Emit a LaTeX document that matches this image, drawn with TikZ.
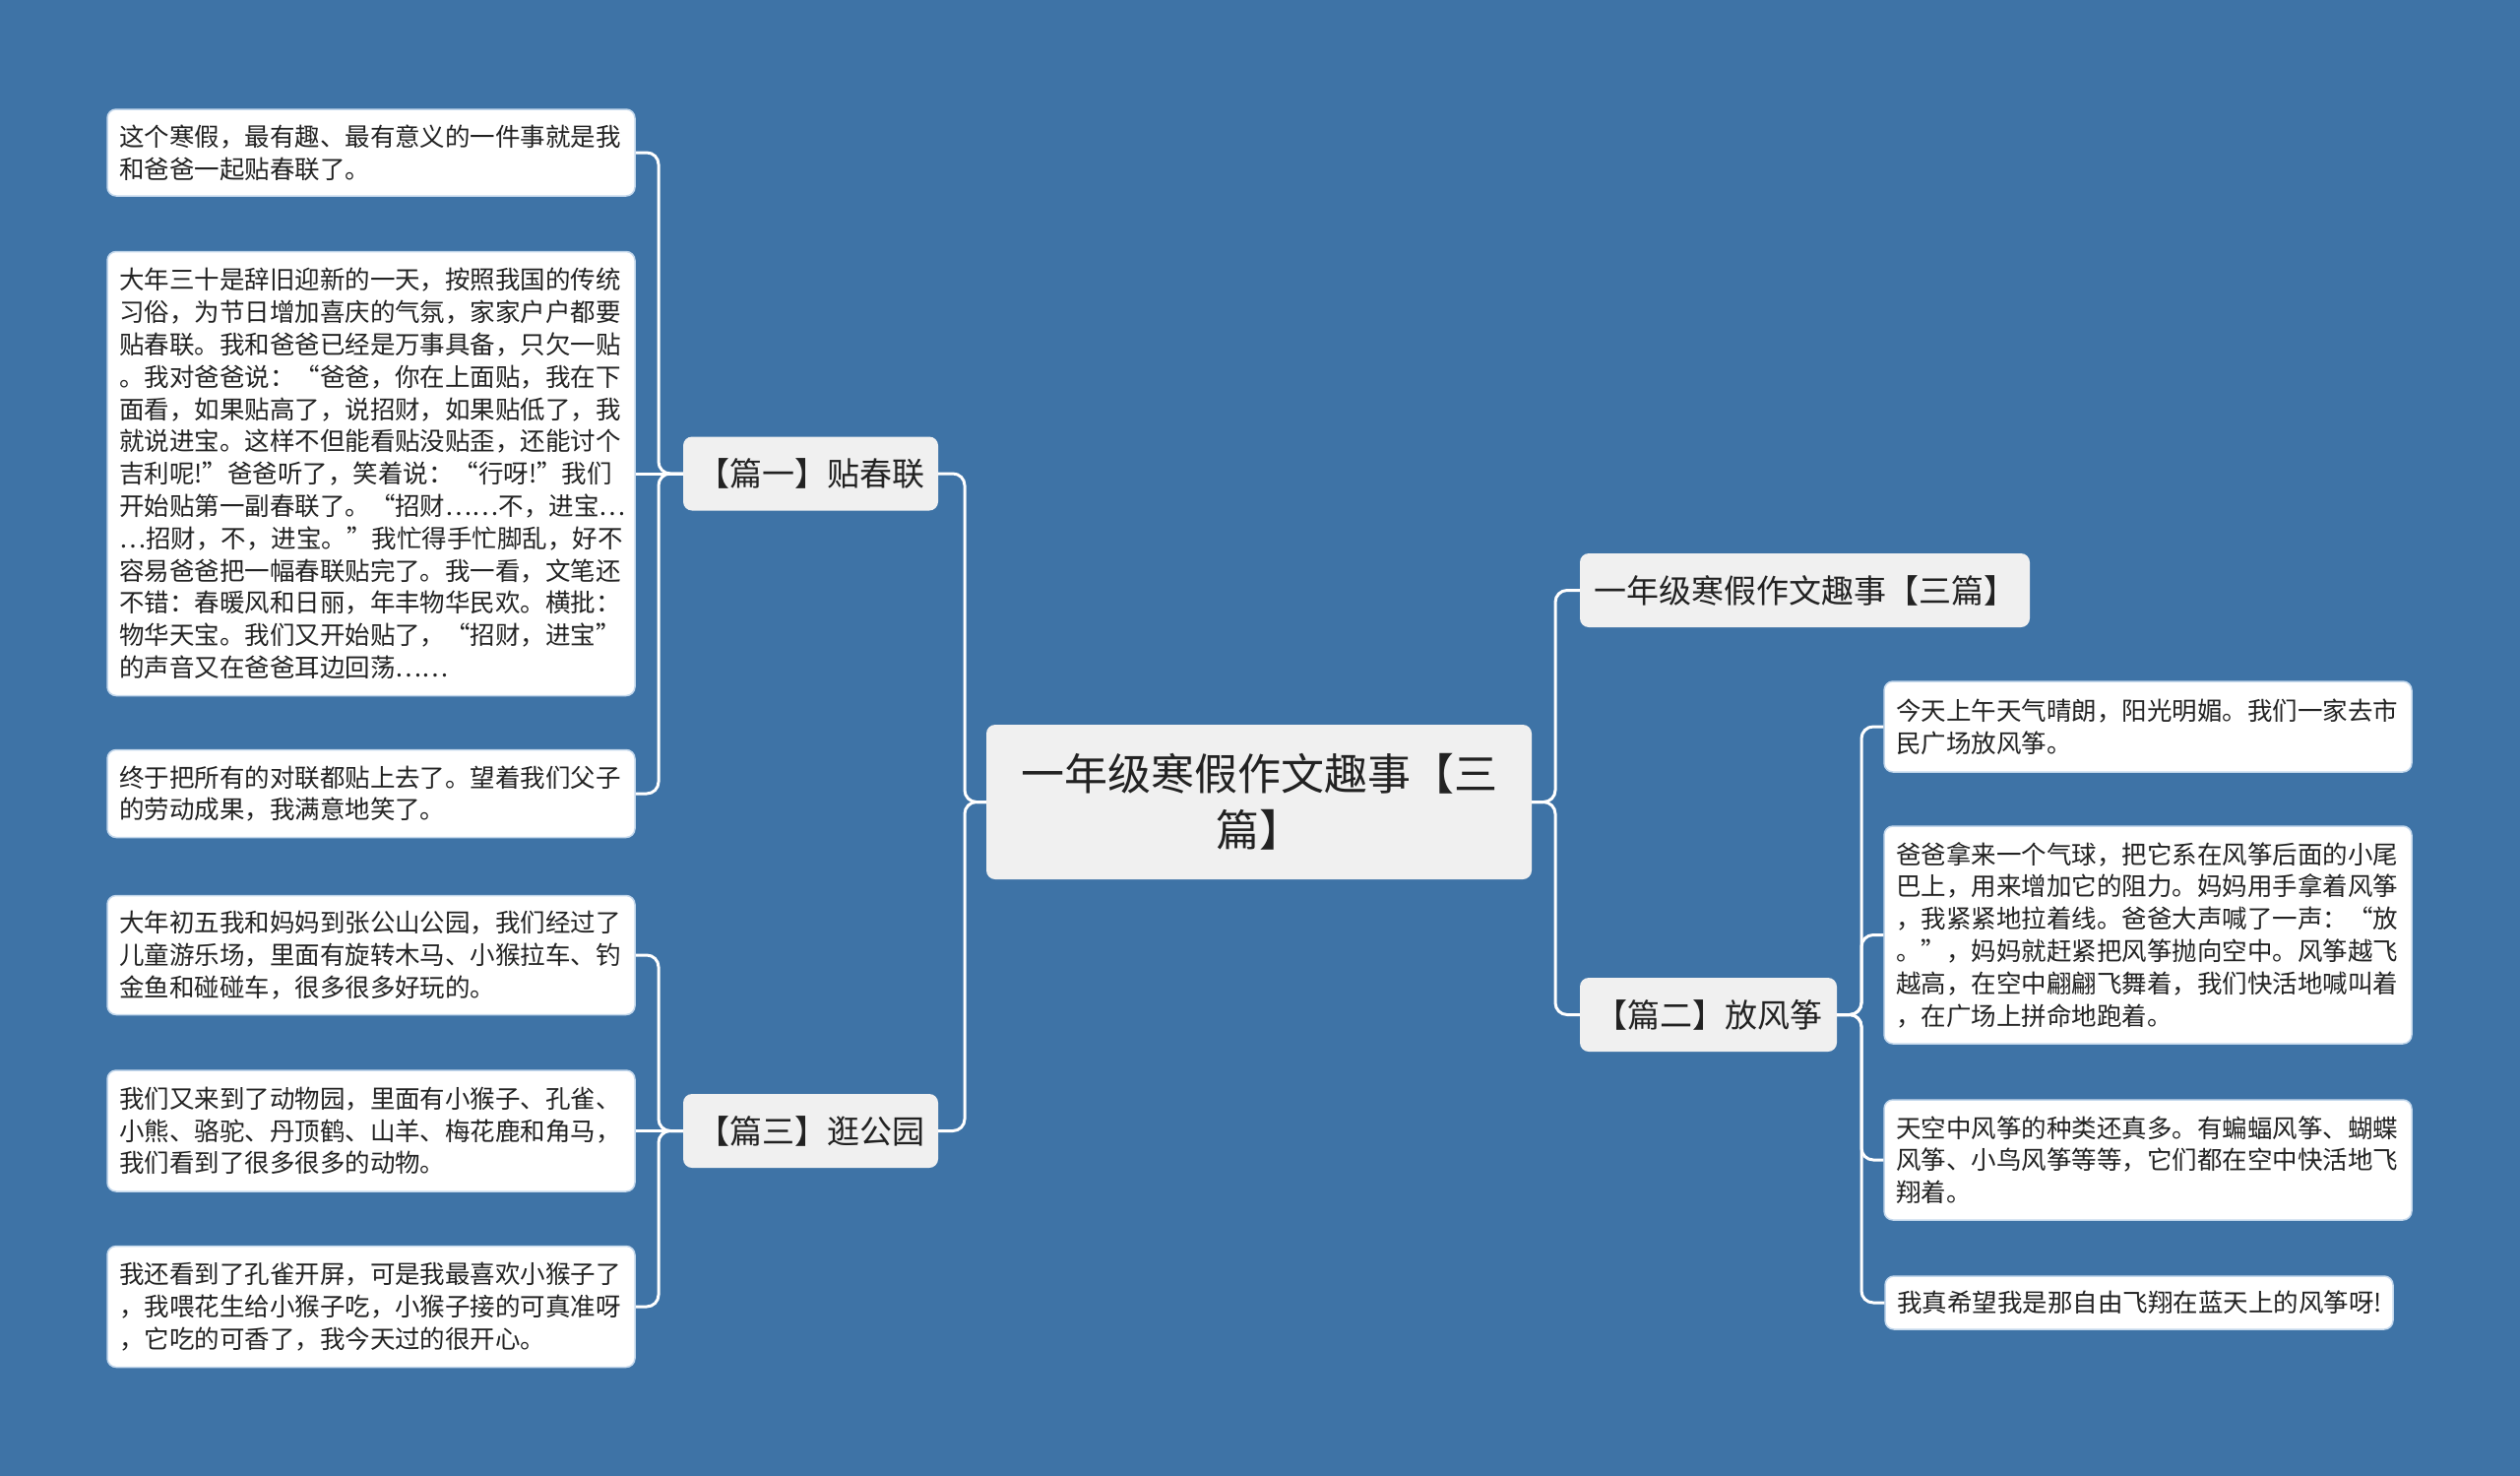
\documentclass[tikz,border=0pt]{standalone}
\usepackage{fontspec}
\setmainfont{Noto Sans CJK SC}
\definecolor{bgblue}{RGB}{62,115,166}
\definecolor{leafline}{RGB}{196,216,236}
\definecolor{boxgray}{RGB}{240,240,240}
\definecolor{txt}{RGB}{34,34,34}
\begin{document}
\begin{tikzpicture}[x=1pt,y=-1pt,
  leaf/.style={draw=leafline, line width=1.5pt, fill=white, rounded corners=9pt,
    inner xsep=12pt, inner ysep=0pt, text width=512pt, align=left, text=txt,
    font=\fontsize{25.5}{32.8}\selectfont},
  branchbox/.style={fill=boxgray, rounded corners=9pt, inner xsep=14pt, inner ysep=0pt,
    minimum height=75pt, text=txt, font=\fontsize{33}{40}\selectfont},
  rootbox/.style={fill=boxgray, rounded corners=9pt, inner sep=0pt,
    minimum width=554pt, minimum height=157pt, text width=500pt, align=center, text=txt,
    font=\fontsize{44}{57}\selectfont},
  conn/.style={draw=white, line width=3pt, rounded corners=12pt}
]
\fill[bgblue] (0,0) rectangle (2560,1499);
\useasboundingbox (0,0) rectangle (2560,1499);

% root
\node[rootbox] (root) at (1279,814.5) {一年级寒假作文趣事【三\\篇】};

% branches
\node[branchbox, minimum width=259pt] (b1) at (823.5,481) {【篇一】贴春联};
\node[branchbox, minimum width=259pt] (b3) at (823.5,1148.5) {【篇三】逛公园};
\node[branchbox, minimum width=457pt] (bt) at (1833.5,599.5) {一年级寒假作文趣事【三篇】};
\node[branchbox, minimum width=261pt] (b2) at (1735.5,1030.5) {【篇二】放风筝};

% left leaves
\node[leaf, minimum height=88pt] (l1) at (377,155) {这个寒假，最有趣、最有意义的一件事就是我\\和爸爸一起贴春联了。};
\node[leaf, minimum height=451pt] (l2) at (377,481) {大年三十是辞旧迎新的一天，按照我国的传统\\习俗，为节日增加喜庆的气氛，家家户户都要\\贴春联。我和爸爸已经是万事具备，只欠一贴\\。我对爸爸说：“爸爸，你在上面贴，我在下\\面看，如果贴高了，说招财，如果贴低了，我\\就说进宝。这样不但能看贴没贴歪，还能讨个\\吉利呢!”爸爸听了，笑着说：“行呀!”我们\\开始贴第一副春联了。“招财……不，进宝…\\…招财，不，进宝。”我忙得手忙脚乱，好不\\容易爸爸把一幅春联贴完了。我一看，文笔还\\不错：春暖风和日丽，年丰物华民欢。横批：\\物华天宝。我们又开始贴了，“招财，进宝”\\的声音又在爸爸耳边回荡……};
\node[leaf, minimum height=89pt] (l3) at (377,806) {终于把所有的对联都贴上去了。望着我们父子\\的劳动成果，我满意地笑了。};
\node[leaf, minimum height=121pt] (l4) at (377,970) {大年初五我和妈妈到张公山公园，我们经过了\\儿童游乐场，里面有旋转木马、小猴拉车、钓\\金鱼和碰碰车，很多很多好玩的。};
\node[leaf, minimum height=123pt] (l5) at (377,1148.5) {我们又来到了动物园，里面有小猴子、孔雀、\\小熊、骆驼、丹顶鹤、山羊、梅花鹿和角马，\\我们看到了很多很多的动物。};
\node[leaf, minimum height=123pt] (l6) at (377,1327) {我还看到了孔雀开屏，可是我最喜欢小猴子了\\，我喂花生给小猴子吃，小猴子接的可真准呀\\，它吃的可香了，我今天过的很开心。};

% right leaves
\node[leaf, minimum height=92pt] (r1) at (2182,738) {今天上午天气晴朗，阳光明媚。我们一家去市\\民广场放风筝。};
\node[leaf, minimum height=221pt] (r2) at (2182,949.5) {爸爸拿来一个气球，把它系在风筝后面的小尾\\巴上，用来增加它的阻力。妈妈用手拿着风筝\\，我紧紧地拉着线。爸爸大声喊了一声：“放\\。”，妈妈就赶紧把风筝抛向空中。风筝越飞\\越高，在空中翩翩飞舞着，我们快活地喊叫着\\，在广场上拼命地跑着。};
\node[leaf, minimum height=122pt] (r3) at (2182,1178) {天空中风筝的种类还真多。有蝙蝠风筝、蝴蝶\\风筝、小鸟风筝等等，它们都在空中快活地飞\\翔着。};
\node[leaf, minimum height=54pt, text width=492pt] (r4) at (2173,1323) {我真希望我是那自由飞翔在蓝天上的风筝呀!};

% junctions
\coordinate (jl) at (980,814.5);
\coordinate (jr) at (1580,814.5);
\coordinate (j1) at (669,481);
\coordinate (j3) at (669,1148.5);
\coordinate (j2) at (1891,1030.5);

% connectors
\begin{scope}[on background layer/.style={}]
\draw[conn] (root.west) -- (jl) |- (b1.east);
\draw[conn] (root.west) -- (jl) |- (b3.east);
\draw[conn] (root.east) -- (jr) |- (bt.west);
\draw[conn] (root.east) -- (jr) |- (b2.west);

\draw[conn] (b1.west) -- (j1) |- (l1.east);
\draw[conn] (b1.west) -- (l2.east);
\draw[conn] (b1.west) -- (j1) |- (l3.east);

\draw[conn] (b3.west) -- (j3) |- (l4.east);
\draw[conn] (b3.west) -- (l5.east);
\draw[conn] (b3.west) -- (j3) |- (l6.east);

\draw[conn] (b2.east) -- (j2) |- (r1.west);
\draw[conn] (b2.east) -- (j2) |- (r2.west);
\draw[conn] (b2.east) -- (j2) |- (r3.west);
\draw[conn] (b2.east) -- (j2) |- (r4.west);
\end{scope}
\end{tikzpicture}
\end{document}
